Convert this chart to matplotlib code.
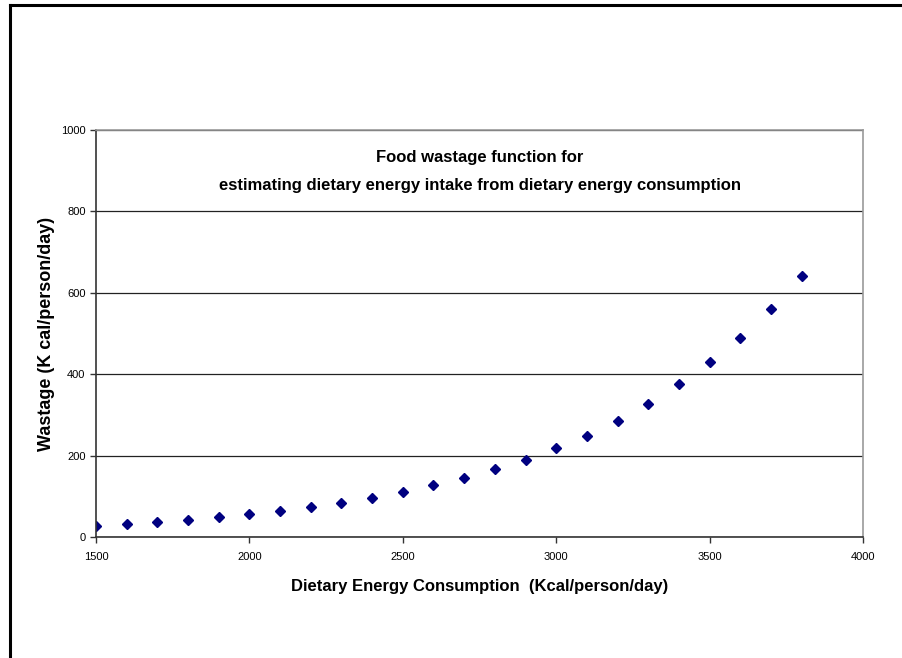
import matplotlib.pyplot as plt
from matplotlib.lines import Line2D

plt.rcParams['font.family'] = ['Liberation Sans', 'DejaVu Sans']

consumption = [1500, 1600, 1700, 1800, 1900, 2000, 2100, 2200, 2300, 2400, 2500, 2600,
               2700, 2800, 2900, 3000, 3100, 3200, 3300, 3400, 3500, 3600, 3700, 3800]
wastage = [28, 31, 37, 42, 49, 56, 64, 74, 84, 97, 111, 127,
           146, 166, 190, 219, 249, 286, 328, 375, 429, 490, 560, 641]
x_ticks = [1500, 2000, 2500, 3000, 3500, 4000]
y_ticks = [0, 200, 400, 600, 800, 1000]

fig = plt.figure(figsize=(9.02, 6.58), dpi=100)
ax = fig.add_axes([0.1064, 0.1839, 0.8504, 0.6185])

ax.plot(consumption, wastage, linestyle='none', marker='D', markersize=4.8,
        color='#000080')

ax.set_xlim(1500, 4000)
ax.set_ylim(0, 1000)
ax.set_xticks(x_ticks)
ax.set_yticks(y_ticks)
ax.tick_params(direction='out', length=4, labelsize=8, width=1, colors='#333333',
               labelcolor='black')
ax.tick_params(axis='x', pad=7)
ax.yaxis.grid(True, color='#222222', linewidth=0.9)
ax.set_axisbelow(True)

for side in ['left', 'bottom']:
    ax.spines[side].set_color('#333333')
    ax.spines[side].set_linewidth(1.2)
for side in ['top', 'right']:
    ax.spines[side].set_color('#999999')
    ax.spines[side].set_linewidth(1.2)

ax.set_xlabel('Dietary Energy Consumption  (Kcal/person/day)', fontsize=12,
              fontweight='bold', labelpad=12)
ax.set_ylabel('Wastage (K cal/person/day)', fontsize=13, fontweight='bold',
              labelpad=4)

ax.text(0.5, 0.898, 'Food wastage function for\n'
        'estimating dietary energy intake from dietary energy consumption',
        transform=ax.transAxes, ha='center', va='center', fontsize=12,
        fontweight='bold', linespacing=2.05)

# outer frame lines on the top and left edges
fig.add_artist(Line2D([10 / 902, 1.0], [1 - 5 / 658, 1 - 5 / 658],
                      transform=fig.transFigure, color='black', linewidth=2.2))
fig.add_artist(Line2D([10 / 902, 10 / 902], [0.0, 1 - 5 / 658],
                      transform=fig.transFigure, color='black', linewidth=2.2))

fig.savefig('out.png', dpi=100)
